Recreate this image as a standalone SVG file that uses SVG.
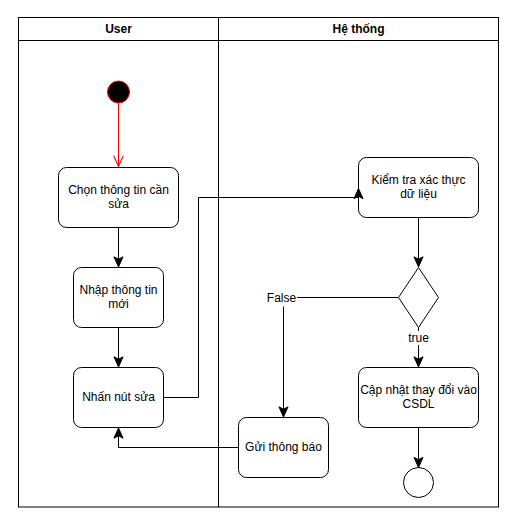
<svg xmlns="http://www.w3.org/2000/svg" width="517" height="526" viewBox="0 0 517 526">
<style>
.box{fill:#fff;stroke:#000;stroke-width:1}
.t{font-family:"Liberation Sans",Arial,sans-serif;font-size:12px;fill:#000;text-anchor:middle}
.h{font-weight:bold}
.e{fill:none;stroke:#000;stroke-width:1}
.lbl{fill:#fff;stroke:none}
</style>
<defs>
<marker id="arr" markerUnits="userSpaceOnUse" markerWidth="12" markerHeight="12" viewBox="-9 -5 10 10" refX="0" refY="0" orient="auto">
<path d="M0,0 L-8.5,-3.8 L-6.5,0 L-8.5,3.8 Z" fill="#000" stroke="#000" stroke-width="0.8"/>
</marker>
<marker id="open" markerUnits="userSpaceOnUse" markerWidth="14" markerHeight="14" viewBox="-12 -6 13 12" refX="0" refY="0" orient="auto">
<path d="M-10,-4.5 L0,0 L-10,4.5" fill="none" stroke="#FF0000" stroke-width="1"/>
</marker>
</defs>
<rect x="0" y="0" width="517" height="526" fill="#fff"/>
<g id="pool">
<rect x="18.5" y="17.5" width="480" height="489.5" fill="#fff" stroke="#000" stroke-width="1"/>
<line x1="18.5" y1="40.5" x2="498.5" y2="40.5" stroke="#000"/>
<line x1="218.5" y1="17.5" x2="218.5" y2="507" stroke="#000"/>
<text class="t h" x="118.5" y="32.5">User</text>
<text class="t h" x="358.5" y="32.5">Hệ thống</text>
</g>
<g id="start">
<circle cx="118.5" cy="92" r="11" fill="#000" stroke="#FF0000" stroke-width="1"/>
</g>
<g id="chon">
<rect class="box" x="58.5" y="167.5" width="120" height="60" rx="8"/>
<text class="t" x="118.5" y="194.3">Chọn thông tin cần</text>
<text class="t" x="118.5" y="208.3">sửa</text>
</g>
<g id="nhap">
<rect class="box" x="73.5" y="267.5" width="90" height="60" rx="8"/>
<text class="t" x="118.5" y="294.3">Nhập thông tin</text>
<text class="t" x="118.5" y="308.3">mới</text>
</g>
<g id="nhan">
<rect class="box" x="73.5" y="367.5" width="90" height="60" rx="8"/>
<text class="t" x="118.5" y="401.3">Nhấn nút sửa</text>
</g>
<g id="kiemtra">
<rect class="box" x="358.5" y="157.5" width="120" height="60" rx="8"/>
<text class="t" x="418.5" y="184.3">Kiểm tra xác thực</text>
<text class="t" x="418.5" y="198.3">dữ liệu</text>
</g>
<g id="decision">
<polygon class="box" points="418.5,267.5 438.5,297.5 418.5,327.5 398.5,297.5"/>
</g>
<g id="capnhat">
<rect class="box" x="358.5" y="367.5" width="120" height="60" rx="8"/>
<text class="t" x="418.5" y="394.3">Cập nhật thay đổi vào</text>
<text class="t" x="418.5" y="408.3">CSDL</text>
</g>
<g id="gui">
<rect class="box" x="238.5" y="417.5" width="90" height="60" rx="8"/>
<text class="t" x="283.5" y="451.3">Gửi thông báo</text>
</g>
<g id="end">
<circle cx="418.5" cy="482.5" r="15" fill="#fff" stroke="#000" stroke-width="1"/>
</g>
<g id="connectors">
<path class="e" d="M118.5,103 V166.5" style="stroke:#FF0000" marker-end="url(#open)"/>
<path class="e" d="M118.5,227.5 V267" marker-end="url(#arr)"/>
<path class="e" d="M118.5,327.5 V367" marker-end="url(#arr)"/>
<path class="e" d="M163.5,397.5 H198.5 V197.5 H358.5 V188.5" marker-end="url(#arr)"/>
<path class="e" d="M418.5,217.5 V267" marker-end="url(#arr)"/>
<path class="e" d="M398.5,297.5 H283.5 V417" marker-end="url(#arr)"/>
<path class="e" d="M418.5,327.5 V367" marker-end="url(#arr)"/>
<path class="e" d="M418.5,427.5 V467.5" marker-end="url(#arr)"/>
<path class="e" d="M238.5,447.5 H118.5 V428" marker-end="url(#arr)"/>
<rect class="lbl" x="265" y="291" width="32" height="15.5"/>
<text class="t" x="281.5" y="302">False</text>
<rect class="lbl" x="406" y="331" width="25" height="14"/>
<text class="t" x="418.5" y="342">true</text>
</g>
</svg>
